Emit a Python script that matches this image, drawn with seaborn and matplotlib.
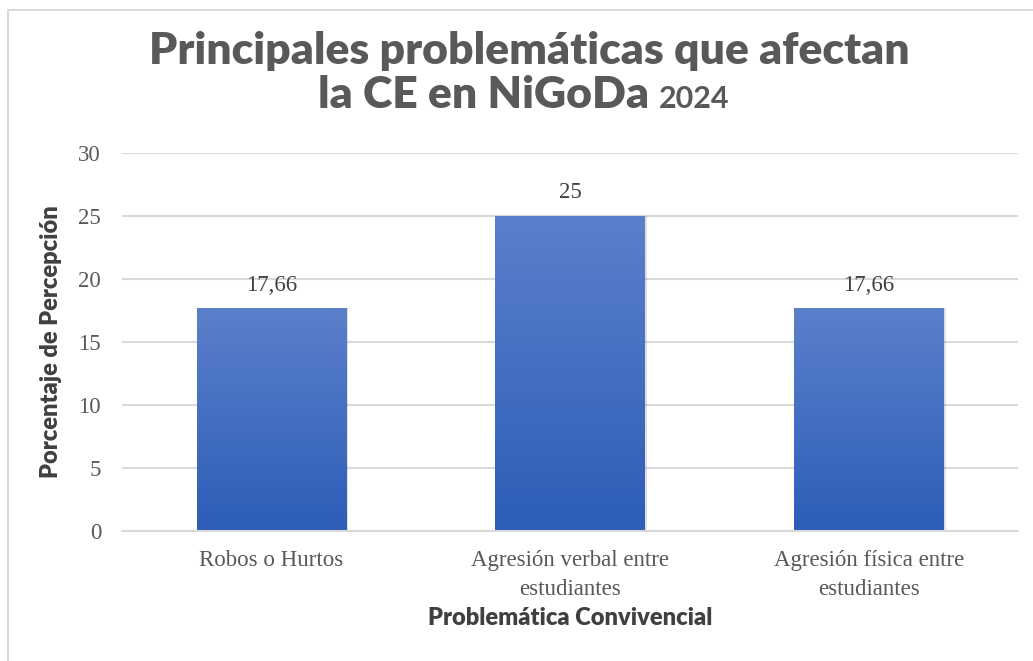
import numpy as np
import matplotlib
matplotlib.use("Agg")
import matplotlib.pyplot as plt
import seaborn as sns
from matplotlib.patches import Rectangle
from matplotlib.colors import LinearSegmentedColormap

categories = ["Robos o Hurtos", "Agresión verbal entre\nestudiantes", "Agresión física entre\nestudiantes"]
values = [17.66, 25, 17.66]
value_labels = ["17,66", "25", "17,66"]
y_ticks = [0, 5, 10, 15, 20, 25, 30]

sns.set_style("white")
plt.rcParams['font.family'] = ['Lato', 'DejaVu Sans']

fig = plt.figure(figsize=(10.33, 6.61), dpi=100)
ax = fig.add_axes([0.118, 0.1967, 0.8675, 0.5723])

sns.barplot(x=categories, y=values, width=0.5, color="#4470c4", ax=ax, zorder=3)

# gradient fill on each bar
grad = LinearSegmentedColormap.from_list("g", ["#2d5db8", "#5b80cb"])
for patch in ax.patches:
    x0, y0 = patch.get_x(), patch.get_y()
    w, h = patch.get_width(), patch.get_height()
    # soft shadow
    ax.add_patch(Rectangle((x0 + 0.008, y0), w, h, facecolor="#000000", alpha=0.12,
                           edgecolor="none", zorder=2.5))
    img = ax.imshow(np.linspace(0, 1, 256).reshape(-1, 1), cmap=grad, origin="lower",
                    extent=[x0, x0 + w, y0, y0 + h], aspect="auto", zorder=3.5)
    img.set_clip_path(patch)
    patch.set_edgecolor("none")

ax.set_xlim(-0.5, 2.5)
ax.set_ylim(0, 30)
ax.set_yticks(y_ticks)
ax.yaxis.grid(True, color="#d9d9d9", linewidth=1.5, zorder=0)
ax.set_axisbelow(True)
sns.despine(ax=ax, left=True, top=True, right=True, bottom=False)
ax.spines["bottom"].set_color("#d9d9d9")
ax.spines["bottom"].set_linewidth(1.5)
ax.spines["bottom"].set_zorder(5)
ax.tick_params(axis="both", length=0, colors="#595959", labelsize=16.5)
ax.tick_params(axis="y", pad=15)
ax.tick_params(axis="x", pad=14)
for lbl in ax.get_xticklabels() + ax.get_yticklabels():
    lbl.set_fontfamily("Liberation Serif")
    lbl.set_linespacing(1.45)

for i, v in enumerate(values):
    ax.text(i, v + 1.0, value_labels[i], ha="center", va="bottom", fontsize=16.5,
            color="#404040", family="Liberation Serif", zorder=6)

ax.set_ylabel("Porcentaje de Percepción", fontsize=17, fontweight="heavy", color="#404040", labelpad=12)
ax.set_xlabel("Problemática Convivencial", fontsize=17, fontweight="heavy", color="#404040", labelpad=5)

# chart border
fig.patches.append(Rectangle((8 / 1033, -0.05), 1.2, 1 - 10 / 661 + 0.05, transform=fig.transFigure,
                             fill=False, edgecolor="#d9d9d9", linewidth=1.5))

# title in two lines, year smaller
fig.text(0.512, 1 - 64 / 661, "Principales problemáticas que afectan", ha="center", va="baseline",
         fontsize=32, fontweight="heavy", color="#595959")
fig.canvas.draw()
r = fig.canvas.get_renderer()
t1 = fig.text(0, 1 - 108 / 661, "la CE en NiGoDa ", ha="left", va="baseline",
              fontsize=32, fontweight="heavy", color="#595959")
t2 = fig.text(0, 1 - 108 / 661, "2024", ha="left", va="baseline",
              fontsize=22, fontweight="bold", color="#595959")
w1 = t1.get_window_extent(r).width
w2 = t2.get_window_extent(r).width
start = 524 - (w1 + w2) / 2
t1.set_x(start / 1033)
t2.set_x((start + w1) / 1033)

fig.savefig("out.png", dpi=100, facecolor="white")
